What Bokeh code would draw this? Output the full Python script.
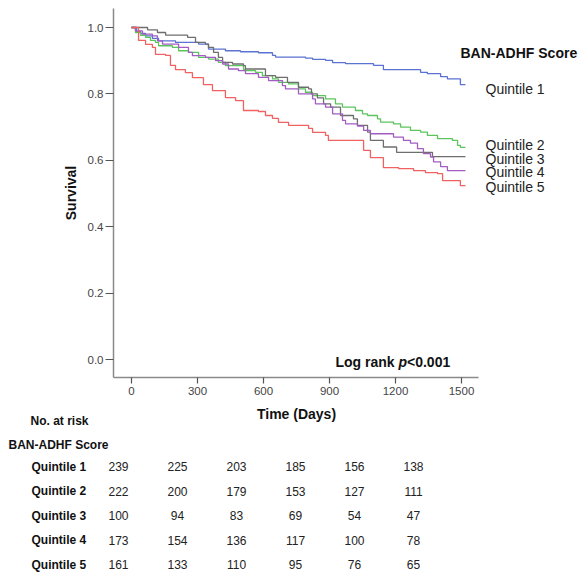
from bokeh.plotting import figure
from bokeh.layouts import column
from bokeh.models import Range1d, FixedTicker, NumeralTickFormatter
from bokeh.core.properties import value
from bokeh.embed import file_html
from bokeh.resources import INLINE

FONT = "Liberation Sans"

# ---------------- data ----------------
groups = ["Quintile 1", "Quintile 2", "Quintile 3", "Quintile 4", "Quintile 5"]
colors = ["#5a72d2", "#5cc45c", "#6e6e6e", "#a25cc2", "#f06262"]

q1_days = [0, 23, 41, 64, 95, 123, 200, 305, 350, 427, 495, 577, 641, 655, 791, 823, 882, 914, 973, 1100, 1145, 1314, 1345, 1405, 1436, 1495]
q1_surv = [1.0, 0.988, 0.982, 0.975, 0.967, 0.960, 0.955, 0.950, 0.935, 0.930, 0.927, 0.924, 0.916, 0.911, 0.908, 0.904, 0.901, 0.894, 0.891, 0.886, 0.873, 0.865, 0.861, 0.852, 0.845, 0.828]

q2_days = [0, 18, 41, 64, 86, 109, 123, 186, 214, 259, 305, 350, 395, 427, 509, 518, 564, 595, 641, 668, 714, 759, 791, 823, 882, 927, 959, 1018, 1050, 1073, 1118, 1132, 1191, 1223, 1268, 1314, 1345, 1391, 1459, 1482, 1495]
q2_surv = [1.0, 0.985, 0.976, 0.970, 0.961, 0.955, 0.945, 0.940, 0.930, 0.925, 0.910, 0.905, 0.895, 0.885, 0.874, 0.870, 0.865, 0.855, 0.845, 0.835, 0.830, 0.815, 0.805, 0.795, 0.785, 0.770, 0.760, 0.750, 0.740, 0.735, 0.725, 0.715, 0.710, 0.700, 0.690, 0.685, 0.675, 0.665, 0.660, 0.645, 0.639]

q3_days = [0, 73, 118, 155, 255, 291, 336, 350, 373, 395, 414, 459, 509, 518, 609, 655, 709, 759, 805, 818, 845, 873, 905, 950, 1009, 1027, 1073, 1086, 1145, 1205, 1368]
q3_surv = [1.0, 0.993, 0.985, 0.977, 0.970, 0.955, 0.950, 0.940, 0.925, 0.910, 0.895, 0.890, 0.885, 0.875, 0.855, 0.850, 0.835, 0.820, 0.815, 0.800, 0.788, 0.770, 0.760, 0.735, 0.725, 0.705, 0.685, 0.660, 0.640, 0.624, 0.611]

q4_days = [0, 18, 50, 95, 118, 141, 214, 259, 277, 336, 382, 414, 441, 486, 518, 577, 623, 686, 700, 759, 823, 836, 882, 914, 959, 973, 1027, 1055, 1086, 1191, 1236, 1268, 1300, 1327, 1359, 1373, 1405, 1436]
q4_surv = [1.0, 0.990, 0.980, 0.975, 0.960, 0.950, 0.940, 0.925, 0.915, 0.910, 0.900, 0.890, 0.875, 0.870, 0.861, 0.850, 0.840, 0.825, 0.815, 0.800, 0.785, 0.770, 0.760, 0.740, 0.720, 0.710, 0.703, 0.690, 0.680, 0.670, 0.660, 0.652, 0.635, 0.620, 0.610, 0.595, 0.581, 0.569]

q5_days = [0, 32, 64, 95, 109, 155, 177, 200, 245, 277, 327, 368, 427, 473, 509, 577, 609, 641, 668, 714, 805, 823, 882, 895, 1055, 1086, 1145, 1214, 1282, 1336, 1391, 1414, 1495]
q5_surv = [1.0, 0.961, 0.949, 0.940, 0.919, 0.916, 0.886, 0.873, 0.864, 0.849, 0.828, 0.810, 0.789, 0.780, 0.750, 0.747, 0.735, 0.726, 0.714, 0.705, 0.696, 0.684, 0.675, 0.660, 0.630, 0.608, 0.578, 0.575, 0.569, 0.563, 0.560, 0.539, 0.524]

follow_up_end = 1518

x_ticks = [0, 300, 600, 900, 1200, 1500]
y_ticks = [0.0, 0.2, 0.4, 0.6, 0.8, 1.0]

risk_title = "No. at risk"
risk_group_title = "BAN-ADHF Score"
risk_q1 = [239, 225, 203, 185, 156, 138]
risk_q2 = [222, 200, 179, 153, 127, 111]
risk_q3 = [100, 94, 83, 69, 54, 47]
risk_q4 = [173, 154, 136, 117, 100, 78]
risk_q5 = [161, 133, 110, 95, 76, 65]

all_days = [q1_days, q2_days, q3_days, q4_days, q5_days]
all_surv = [q1_surv, q2_surv, q3_surv, q4_surv, q5_surv]
all_risk = [risk_q1, risk_q2, risk_q3, risk_q4, risk_q5]

# ---------------- layout (pixel geometry) ----------------
W, H = 581, 576
H1 = 402                     # height of the survival plot
H2 = H - H1                  # height of the at-risk table
FRAME_L, FRAME_T, FRAME_B = 113, 8, 377
PX0, PX_PER_DAY = 131, 0.22        # x pixel of day 0, pixels per day
PY0, PY_PER_UNIT = 359, 332.0      # y pixel of survival 0, pixels per unit


def px_to_day(px):
    return (px - PX0) / PX_PER_DAY


def py_to_surv(py):
    return (PY0 - py) / PY_PER_UNIT


X_START, X_END = px_to_day(FRAME_L), px_to_day(W)
Y_START, Y_END = py_to_surv(FRAME_B), py_to_surv(FRAME_T)
AXIS_END = px_to_day(478)

p = figure(width=W, height=H1, x_range=Range1d(X_START, X_END), y_range=Range1d(Y_START, Y_END),
           output_backend="svg", toolbar_location=None,
           min_border_left=FRAME_L, min_border_right=0, min_border_top=FRAME_T,
           min_border_bottom=H1 - FRAME_B)
p.frame_align = False
p.outline_line_color = None
p.grid.grid_line_color = None
p.background_fill_color = "white"

for d, s, c in zip(all_days, all_surv, colors):
    xs = list(d) + [follow_up_end]
    ys = list(s) + [s[-1]]
    p.step(xs, ys, mode="after", line_color=c, line_width=1.3)

# axes
for ax in (p.xaxis[0], p.yaxis[0]):
    ax.axis_line_color = "#8a8a8a"
    ax.axis_line_width = 1.5
    ax.major_tick_line_color = "#555555"
    ax.major_tick_line_width = 1.2
    ax.major_tick_in = 0
    ax.minor_tick_line_color = None
    ax.major_label_text_font = FONT
    ax.major_label_text_font_size = "11.5px"
    ax.major_label_text_color = "#444444"
    ax.axis_label_text_font = FONT
    ax.axis_label_text_font_size = "14px"
    ax.axis_label_text_font_style = "bold"
    ax.axis_label_text_color = "#111111"

p.xaxis.ticker = FixedTicker(ticks=x_ticks)
p.xaxis.bounds = (X_START, AXIS_END)
p.xaxis.major_tick_out = 6
p.xaxis.major_label_standoff = 3

p.yaxis.ticker = FixedTicker(ticks=y_ticks)
p.yaxis.formatter = NumeralTickFormatter(format="0.0")
p.yaxis.major_tick_out = 8
p.yaxis.major_label_standoff = 2
p.yaxis.axis_label = "Survival"
p.yaxis.axis_label_standoff = 6

# legend-like labels (SPSS style)
p.text(x=[px_to_day(460)], y=[py_to_surv(52)], text=["BAN-ADHF Score"],
       text_font=value(FONT), text_font_size="14px", text_font_style="bold",
       text_color="#111111", text_baseline="middle", text_align="left")
leg_py = [88, 144, 158, 171, 186]
p.text(x=[px_to_day(485)] * 5, y=[py_to_surv(v) for v in leg_py], text=groups,
       text_font=value(FONT), text_font_size="14px", text_color="#222222",
       text_baseline="middle", text_align="left")

# log rank annotation
lr_y = py_to_surv(361)
p.text(x=[px_to_day(335)], y=[lr_y], text=["Log rank "], text_font=value(FONT), text_font_size="14px",
       text_font_style="bold", text_color="#111111", text_baseline="middle", text_align="left")
p.text(x=[px_to_day(398)], y=[lr_y], text=["p"], text_font=value(FONT), text_font_size="14px",
       text_font_style="bold italic", text_color="#111111", text_baseline="middle", text_align="left")
p.text(x=[px_to_day(406.5)], y=[lr_y], text=["<0.001"], text_font=value(FONT), text_font_size="14px",
       text_font_style="bold", text_color="#111111", text_baseline="middle", text_align="left")

# ---------------- risk table (pixel coordinates of the page) ----------------
t = figure(width=W, height=H2, x_range=Range1d(0, W), y_range=Range1d(H, H1),
           output_backend="svg", toolbar_location=None, x_axis_location=None, y_axis_location=None,
           min_border_left=0, min_border_right=0, min_border_top=0, min_border_bottom=0)
t.frame_align = False
t.outline_line_color = None
t.grid.grid_line_color = None

# x-axis title, centred under the drawn axis
t.text(x=[296], y=[413], text=["Time (Days)"], text_font=value(FONT), text_font_size="14px",
       text_font_style="bold", text_color="#111111", text_baseline="middle", text_align="center")

t.text(x=[30], y=[420], text=[risk_title], text_font=value(FONT), text_font_size="12px",
       text_font_style="bold", text_color="#111111", text_baseline="middle", text_align="left")
t.text(x=[8], y=[444], text=[risk_group_title], text_font=value(FONT), text_font_size="12px",
       text_font_style="bold", text_color="#111111", text_baseline="middle", text_align="left")

row_y = [466 + 24.5 * i for i in range(len(groups))]
col_x = [118 + 59 * j for j in range(len(x_ticks))]
t.text(x=[31] * len(groups), y=row_y, text=groups, text_font=value(FONT), text_font_size="12px",
       text_font_style="bold", text_color="#111111", text_baseline="middle", text_align="left")
nx, ny, nt = [], [], []
for i, row in enumerate(all_risk):
    for j, n in enumerate(row):
        nx.append(col_x[j])
        ny.append(row_y[i])
        nt.append(str(n))
t.text(x=nx, y=ny, text=nt, text_font=value(FONT), text_font_size="12px", text_color="#222222",
       text_baseline="middle", text_align="center")

layout = column(p, t, spacing=0)
open("out.html", "w").write(file_html(layout, INLINE))
